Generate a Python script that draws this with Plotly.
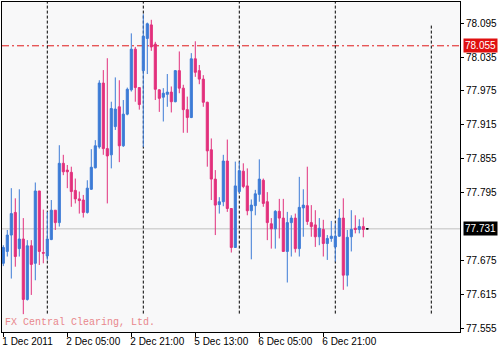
import plotly.graph_objects as go

# ---- data (H1 USDJPY-like bars) ----
open_ = [77.670, 77.691, 77.720, 77.760, 77.696, 77.713, 77.606, 77.701, 77.670, 77.798,
         77.689, 77.683, 77.712, 77.764, 77.742, 77.847, 77.835, 77.831, 77.799, 77.784,
         77.782, 77.760, 77.801, 77.839, 77.876, 77.989, 77.873, 77.862, 77.912, 77.947,
         77.878, 77.934, 77.977, 78.049, 77.981, 78.011, 78.068, 78.092, 78.058, 77.977,
         77.964, 77.969, 77.973, 77.956, 78.011, 77.980, 77.942, 77.928, 78.032, 78.011,
         77.996, 77.955, 77.871, 77.819, 77.774, 77.779, 77.851, 77.767, 77.698, 77.797,
         77.833, 77.807, 77.763, 77.772, 77.792, 77.817, 77.779, 77.740, 77.731, 77.762,
         77.750, 77.691, 77.742, 77.750, 77.696, 77.768, 77.772, 77.742, 77.738, 77.717,
         77.730, 77.705, 77.714, 77.699, 77.718, 77.750, 77.649, 77.717, 77.732, 77.730,
         77.735]
high = [77.702, 77.729, 77.803, 77.785, 77.801, 77.750, 77.711, 77.711, 77.813, 77.798,
        77.765, 77.761, 77.782, 77.764, 77.879, 77.862, 77.844, 77.841, 77.820, 77.797,
        77.791, 77.817, 77.872, 77.888, 77.994, 78.012, 78.033, 77.956, 77.999, 77.994,
        77.959, 77.981, 78.077, 78.053, 77.981, 78.111, 78.096, 78.101, 78.062, 77.978,
        77.980, 78.005, 77.983, 78.012, 78.045, 77.986, 77.965, 78.042, 78.063, 78.021,
        78.003, 77.956, 77.891, 77.835, 77.787, 77.862, 77.889, 77.767, 77.850, 77.850,
        77.847, 77.838, 77.783, 77.800, 77.854, 77.820, 77.796, 77.750, 77.764, 77.784,
        77.784, 77.761, 77.755, 77.758, 77.823, 77.801, 77.841, 77.773, 77.764, 77.750,
        77.747, 77.720, 77.745, 77.740, 77.766, 77.785, 77.729, 77.764, 77.755, 77.748,
        77.751]
low = [77.665, 77.682, 77.643, 77.664, 77.682, 77.580, 77.604, 77.614, 77.640, 77.667,
       77.670, 77.676, 77.711, 77.729, 77.735, 77.826, 77.803, 77.770, 77.776, 77.758,
       77.751, 77.758, 77.800, 77.838, 77.873, 77.862, 77.776, 77.838, 77.906, 77.849,
       77.876, 77.932, 77.974, 77.956, 77.942, 77.876, 78.005, 78.046, 77.959, 77.938,
       77.921, 77.947, 77.937, 77.955, 77.971, 77.901, 77.901, 77.927, 78.000, 77.987,
       77.947, 77.841, 77.782, 77.720, 77.758, 77.771, 77.761, 77.689, 77.698, 77.794,
       77.803, 77.755, 77.677, 77.755, 77.779, 77.770, 77.711, 77.696, 77.696, 77.714,
       77.691, 77.636, 77.682, 77.689, 77.682, 77.717, 77.738, 77.717, 77.699, 77.702,
       77.682, 77.676, 77.708, 77.673, 77.717, 77.623, 77.629, 77.691, 77.723, 77.723,
       77.716]
close = [77.698, 77.720, 77.758, 77.682, 77.713, 77.606, 77.701, 77.668, 77.798, 77.691,
         77.688, 77.713, 77.764, 77.742, 77.847, 77.832, 77.832, 77.797, 77.784, 77.781,
         77.760, 77.803, 77.840, 77.878, 77.989, 77.873, 77.860, 77.944, 77.943, 77.878,
         77.934, 77.978, 78.049, 77.981, 77.951, 78.072, 78.094, 78.053, 77.978, 77.962,
         77.971, 77.973, 77.956, 78.011, 77.980, 77.942, 77.928, 78.032, 78.008, 77.996,
         77.955, 77.869, 77.819, 77.773, 77.779, 77.851, 77.767, 77.698, 77.807, 77.834,
         77.806, 77.763, 77.773, 77.793, 77.819, 77.776, 77.742, 77.731, 77.762, 77.750,
         77.691, 77.742, 77.750, 77.696, 77.769, 77.773, 77.744, 77.735, 77.717, 77.732,
         77.705, 77.714, 77.718, 77.718, 77.750, 77.649, 77.716, 77.730, 77.730, 77.735,
         77.730]
last_price = 77.731          # current (still open) bar, a doji
alert_price = 78.055          # red dash-dot level

tick_idx = [0, 16, 32, 48, 64, 80]
tick_text = ["1 Dec 2011", "2 Dec 05:00", "2 Dec 21:00", "5 Dec 13:00", "6 Dec 05:00", "6 Dec 21:00"]
separator_idx = [11, 35, 59, 83, 107]
y_ticks = [77.555, 77.615, 77.675, 77.795, 77.855, 77.915, 77.975, 78.035, 78.095]
watermark = "FX Central Clearing, Ltd."

# ---- styling ----
BULL = "#3d7bd6"
BEAR = "#e2307c"
Y_RANGE = [77.5484, 78.1325]
X_RANGE = [-0.325, 114.175]
SEP_BOTTOM = 77.581

x = list(range(len(open_)))

fig = go.Figure()
fig.add_trace(go.Candlestick(
    x=x, open=open_, high=high, low=low, close=close,
    increasing=dict(line=dict(color=BULL, width=1), fillcolor=BULL),
    decreasing=dict(line=dict(color=BEAR, width=1), fillcolor=BEAR),
    whiskerwidth=0, hoverinfo="skip", showlegend=False,
))
fig.add_trace(go.Candlestick(
    x=[len(open_)], open=[last_price], high=[last_price], low=[last_price], close=[last_price],
    increasing=dict(line=dict(color="black", width=1), fillcolor="black"),
    decreasing=dict(line=dict(color="black", width=1), fillcolor="black"),
    whiskerwidth=0, hoverinfo="skip", showlegend=False,
))

shapes = []
for k, i in enumerate(separator_idx):
    top = Y_RANGE[1] if k < len(separator_idx) - 1 else 78.092
    shapes.append(dict(type="line", xref="x", yref="y", x0=i, x1=i, y0=SEP_BOTTOM, y1=top,
                       line=dict(color="black", width=1, dash="3px,2px"), layer="below"))
shapes.append(dict(type="line", xref="paper", yref="y", x0=0, x1=1, y0=last_price, y1=last_price,
                   line=dict(color="#c0c0c0", width=1), layer="below"))
shapes.append(dict(type="line", xref="paper", yref="y", x0=0, x1=1, y0=alert_price, y1=alert_price,
                   line=dict(color="#e01818", width=1, dash="7px,3px,2px,3px"), layer="below"))

annotations = [
    dict(xref="paper", yref="y", x=1, y=alert_price, xanchor="left", yanchor="middle", xshift=3,
         text=f"{alert_price:.3f}", showarrow=False, bgcolor="#e01010",
         font=dict(color="white", size=10, family="Liberation Sans"), borderpad=1),
    dict(xref="paper", yref="y", x=1, y=last_price, xanchor="left", yanchor="middle", xshift=3,
         text=f"{last_price:.3f}", showarrow=False, bgcolor="black",
         font=dict(color="white", size=10, family="Liberation Sans"), borderpad=1),
    dict(xref="paper", yref="paper", x=0, y=0, xanchor="left", yanchor="bottom", xshift=1, yshift=2,
         text=watermark, showarrow=False,
         font=dict(color="#e8878c", size=10, family="Liberation Mono")),
]

fig.update_layout(
    width=500, height=350,
    margin=dict(l=2, r=40, t=2, b=18),
    paper_bgcolor="white", plot_bgcolor="#f8f8f9",
    showlegend=False, shapes=shapes, annotations=annotations,
    boxgap=0.25,
    font=dict(family="Liberation Sans", size=10, color="black"),
)
fig.update_xaxes(
    range=X_RANGE, tickvals=tick_idx, ticktext=tick_text,
    ticks="outside", ticklen=4, tickcolor="black",
    ticklabelposition="outside right", ticklabelshift=-2,
    tickfont=dict(size=10, family="Liberation Sans", color="black"),
    showgrid=False, zeroline=False, showline=True, linecolor="black", linewidth=1, mirror=True,
    rangeslider=dict(visible=False), fixedrange=True,
)
fig.update_yaxes(
    side="right", range=Y_RANGE, tickvals=y_ticks, ticktext=[f"{v:.3f}" for v in y_ticks],
    ticks="outside", ticklen=3, tickcolor="black",
    tickfont=dict(size=10, family="Liberation Sans", color="black"),
    showgrid=False, zeroline=False, showline=True, linecolor="black", linewidth=1, mirror=True,
    fixedrange=True,
)

fig.write_html("out.html")
